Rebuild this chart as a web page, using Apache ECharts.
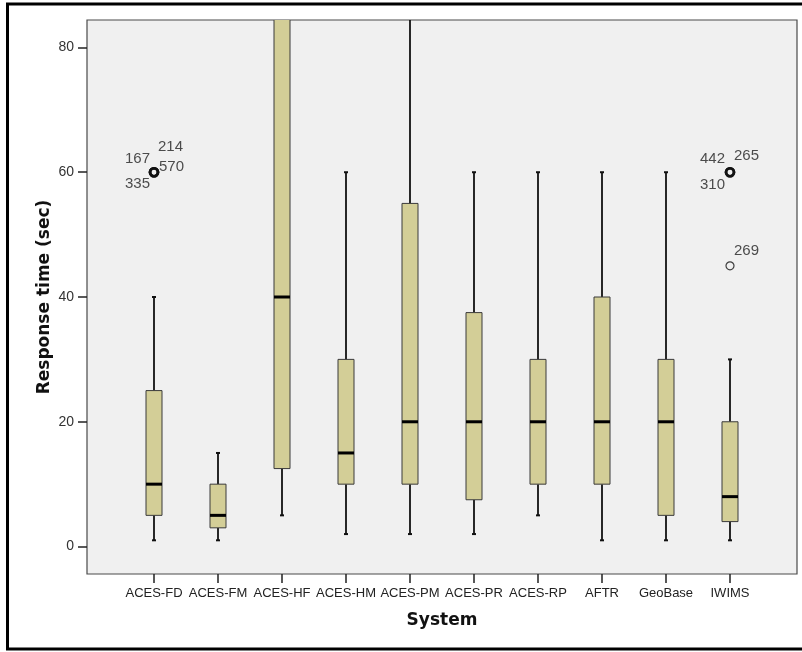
<!DOCTYPE html>
<html>
<head>
<meta charset="utf-8">
<script src="https://cdn.jsdelivr.net/npm/echarts@6/dist/echarts.min.js"></script>
<style>
html,body{margin:0;padding:0;background:#fff;}
#chart{width:802px;height:652px;}
</style>
</head>
<body>
<div id="chart"></div>
<script>
// ---- data ----
const categories = ['ACES-FD','ACES-FM','ACES-HF','ACES-HM','ACES-PM','ACES-PR','ACES-RP','AFTR','GeoBase','IWIMS'];
const whiskerLow  = [1, 1, 5, 2, 2, 2, 5, 1, 1, 1];
const quartile1   = [5, 3, 12.5, 10, 10, 7.5, 10, 10, 5, 4];
const medians     = [10, 5, 40, 15, 20, 20, 20, 20, 20, 8];
const quartile3   = [25, 10, 90, 30, 55, 37.5, 30, 40, 30, 20];
const whiskerHigh = [40, 15, 120, 60, 120, 60, 60, 60, 60, 30];
const outlierCategory = ['ACES-FD','ACES-FD','ACES-FD','ACES-FD','IWIMS','IWIMS','IWIMS','IWIMS'];
const outlierValue    = [60, 60, 60, 60, 60, 60, 60, 45];
const outlierCase     = ['167','214','570','335','442','265','310','269'];
const yTicks = [0, 20, 40, 60, 80];

// ---- styles ----
const labelPlacement = {
  '167': {offset: [-4, -13], align: 'right'},
  '214': {offset: [4, -25], align: 'left'},
  '570': {offset: [5, -5], align: 'left'},
  '335': {offset: [-4, 12], align: 'right'},
  '442': {offset: [-5, -13], align: 'right'},
  '265': {offset: [4, -16], align: 'left'},
  '310': {offset: [-5, 13], align: 'right'},
  '269': {offset: [4, -15], align: 'left'}
};
const yMin = -4.4, yMax = 84.4;
const boxFill = '#d3ce97';
const font = "'Liberation Sans', Arial, sans-serif";
const boldFont = "'DejaVu Sans', Verdana, sans-serif";

const boxData = categories.map((c, i) => [i, whiskerLow[i], quartile1[i], medians[i], quartile3[i], whiskerHigh[i]]);

const outlierData = outlierCategory.map((c, k) => {
  const ci = categories.indexOf(c);
  const dup = outlierCategory.filter((cc, j) => cc === c && outlierValue[j] === outlierValue[k]).length;
  const pl = labelPlacement[outlierCase[k]];
  return {
    value: [ci, outlierValue[k]],
    itemStyle: {borderWidth: dup > 1 ? 2.6 : 1.2},
    label: {
      show: true, formatter: outlierCase[k], position: 'inside',
      offset: pl.offset, align: pl.align, verticalAlign: 'middle'
    }
  };
});

function renderBox(params, api) {
  const i = api.value(0);
  const pLow = api.coord([i, api.value(1)]);
  const pQ1 = api.coord([i, api.value(2)]);
  const pMed = api.coord([i, api.value(3)]);
  const pQ3 = api.coord([i, api.value(4)]);
  const pHigh = api.coord([i, api.value(5)]);
  const x = pMed[0];
  const bw = 16;
  const whisk = {stroke: '#111', lineWidth: 1.8};
  return {
    type: 'group',
    children: [
      {type: 'line', shape: {x1: x, y1: pQ3[1], x2: x, y2: pHigh[1]}, style: whisk},
      {type: 'line', shape: {x1: x, y1: pLow[1], x2: x, y2: pQ1[1]}, style: whisk},
      {type: 'line', shape: {x1: x - 2, y1: pHigh[1], x2: x + 2, y2: pHigh[1]}, style: {stroke: '#111', lineWidth: 2}},
      {type: 'line', shape: {x1: x - 2, y1: pLow[1], x2: x + 2, y2: pLow[1]}, style: {stroke: '#111', lineWidth: 2}},
      {type: 'rect', shape: {x: x - bw / 2, y: pQ3[1], width: bw, height: pQ1[1] - pQ3[1]},
        style: {fill: boxFill, stroke: '#3a3a3a', lineWidth: 1}},
      {type: 'line', shape: {x1: x - bw / 2, y1: pMed[1], x2: x + bw / 2, y2: pMed[1]}, style: {stroke: '#000', lineWidth: 3}}
    ]
  };
}

const chart = echarts.init(document.getElementById('chart'), null, {renderer: 'canvas'});
chart.setOption({
  animation: false,
  backgroundColor: '#ffffff',
  grid: [
    {left: 87, top: 20, width: 710, height: 554, show: true, backgroundColor: '#f0f0f0', borderColor: '#4a4a4a', borderWidth: 1.2},
    {left: 122, top: 20, width: 640, height: 554}
  ],
  xAxis: [
    {gridIndex: 0, type: 'value', min: 0, max: 1, show: false},
    {
      gridIndex: 1, type: 'category', data: categories, position: 'bottom',
      axisLine: {show: false, onZero: false},
      axisTick: {show: true, alignWithLabel: true, length: 9, lineStyle: {color: '#222', width: 1.5}},
      axisLabel: {color: '#222', fontFamily: font, fontSize: 13, margin: 13, interval: 0},
      name: 'System', nameLocation: 'middle', nameGap: 38, nameMoveOverlap: false,
      nameTextStyle: {fontFamily: boldFont, fontWeight: 'bold', fontSize: 17, color: '#111'}
    }
  ],
  yAxis: [
    {
      gridIndex: 0, type: 'value', min: yMin, max: yMax,
      splitLine: {show: false},
      axisLine: {show: false},
      axisTick: {show: true, length: 9, customValues: yTicks, lineStyle: {color: '#222', width: 1.5}},
      axisLabel: {color: '#333', fontFamily: font, fontSize: 14, margin: 13, customValues: yTicks},
      name: 'Response time (sec)', nameLocation: 'middle', nameGap: 34, nameMoveOverlap: false,
      nameTextStyle: {fontFamily: boldFont, fontWeight: 'bold', fontSize: 17, color: '#111'}
    },
    {gridIndex: 1, type: 'value', min: yMin, max: yMax, show: false, splitLine: {show: false}}
  ],
  series: [
    {
      type: 'custom', xAxisIndex: 1, yAxisIndex: 1, clip: true,
      renderItem: renderBox,
      encode: {x: 0, y: [1, 2, 3, 4, 5]},
      data: boxData
    },
    {
      type: 'scatter', xAxisIndex: 1, yAxisIndex: 1,
      symbol: 'circle', symbolSize: 8,
      itemStyle: {color: 'rgba(0,0,0,0)', borderColor: '#111'},
      label: {color: '#222', fontFamily: font, fontSize: 15},
      data: outlierData
    }
  ],
  graphic: [
    {type: 'rect', silent: true, z: 100, shape: {x: 7.5, y: 4, width: 800, height: 645},
      style: {fill: null, stroke: '#000', lineWidth: 3}}
  ]
});
</script>
</body>
</html>
